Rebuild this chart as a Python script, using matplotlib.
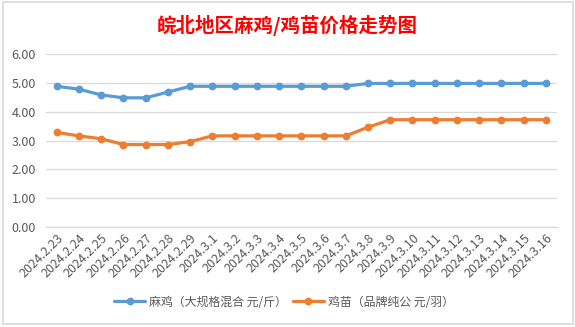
import matplotlib
matplotlib.use("Agg")
import matplotlib.pyplot as plt
from matplotlib.patches import Rectangle

plt.rcParams['font.family'] = ['Noto Sans CJK SC', 'DejaVu Sans']

dates = ["2024.2.23", "2024.2.24", "2024.2.25", "2024.2.26", "2024.2.27", "2024.2.28",
         "2024.2.29", "2024.3.1", "2024.3.2", "2024.3.3", "2024.3.4", "2024.3.5",
         "2024.3.6", "2024.3.7", "2024.3.8", "2024.3.9", "2024.3.10", "2024.3.11",
         "2024.3.12", "2024.3.13", "2024.3.14", "2024.3.15", "2024.3.16"]
majI = [4.88, 4.78, 4.58, 4.48, 4.48, 4.68, 4.88, 4.88, 4.88, 4.88, 4.88, 4.88,
        4.88, 4.88, 4.98, 4.98, 4.98, 4.98, 4.98, 4.98, 4.98, 4.98, 4.98]
jimiao = [3.28, 3.16, 3.06, 2.86, 2.86, 2.86, 2.96, 3.16, 3.16, 3.16, 3.16, 3.16,
          3.16, 3.16, 3.46, 3.72, 3.72, 3.72, 3.72, 3.72, 3.72, 3.72, 3.72]
yticks = [0, 1, 2, 3, 4, 5, 6]
series_names = ["麻鸡（大规格混合 元/斤）", "鸡苗（品牌纯公 元/羽）"]
title = "皖北地区麻鸡/鸡苗价格走势图"

W, H = 575, 327
fig = plt.figure(figsize=(W / 100, H / 100), dpi=100)
fig.patch.set_facecolor("white")

# chart border
fig.patches.append(Rectangle((3 / W, 3 / H), 570 / W, 322 / H, transform=fig.transFigure,
                             fill=False, edgecolor="#d9d9d9", linewidth=1.2))

ax = fig.add_axes([45.6 / W, 100 / H, (557 - 45.6) / W, 173 / H])
x = list(range(len(dates)))
ax.plot(x, majI, color="#5b9bd5", linewidth=2.3, marker="o", markersize=4.6, label=series_names[0],
        solid_capstyle="round")
ax.plot(x, jimiao, color="#ed7d31", linewidth=2.3, marker="o", markersize=4.6, label=series_names[1],
        solid_capstyle="round")

ax.set_xlim(-0.5, len(dates) - 0.5)
ax.set_ylim(0, 6)
ax.set_yticks(yticks)
ax.set_yticklabels([f"{v:.2f}" for v in yticks], color="#595959", fontsize=9)
ax.set_xticks(x)
ax.set_xticklabels(dates, rotation=45, ha="right", rotation_mode="anchor", color="#595959",
                   fontsize=9)
ax.tick_params(axis="both", length=0)
ax.tick_params(axis="y", pad=7)
ax.tick_params(axis="x", pad=3)
ax.grid(axis="y", color="#d9d9d9", linewidth=0.9)
ax.set_axisbelow(True)
for s in ["top", "right", "left"]:
    ax.spines[s].set_visible(False)
ax.spines["bottom"].set_color("#d9d9d9")
ax.spines["bottom"].set_linewidth(0.9)

fig.text(287 / W, 1 - 25 / H, title, color="#ff0000", fontsize=14, fontweight="bold",
         ha="center", va="center")

fig.legend(loc="center", bbox_to_anchor=(284 / W, 1 - 302 / H), ncol=2, frameon=False,
           fontsize=8.6, labelcolor="#595959", handlelength=2.6, columnspacing=0.5,
           handletextpad=0.3)

fig.savefig("out.png", dpi=100)
